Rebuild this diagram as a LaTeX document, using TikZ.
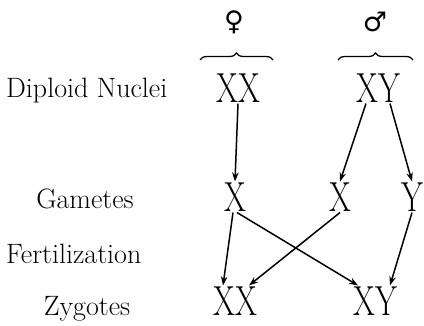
\documentclass[tikz,border=0pt]{standalone}
\usepackage{fontspec}
\newfontfamily\symbolfont{DejaVu Sans}
\usetikzlibrary{arrows.meta,decorations.pathreplacing}
\newcommand\chromtext[1]{\scalebox{0.75}[1]{#1}}

\begin{document}
\begin{tikzpicture}[
  x=1pt, y=-1pt,
  >={Stealth[length=9pt,width=6.5pt]},
  rowlabel/.style={font=\fontsize{28}{32}\selectfont, inner sep=0pt},
  chrom/.style={font=\fontsize{42}{46}\selectfont, inner sep=1pt},
  sexsign/.style={font=\symbolfont\fontsize{27}{30}\selectfont, inner sep=0pt},
  bracket/.style={decorate, decoration={brace, amplitude=7pt}, line width=1.3pt},
  link/.style={->, line width=1.5pt},
]
\useasboundingbox (0,0) rectangle (424,325);
% row labels
\node[rowlabel, anchor=base west] (dip) at (6,97) {Diploid Nuclei};
\node[rowlabel, anchor=base] (gam) at (85,208) {Gametes};
\node[rowlabel, anchor=base west] (fer) at (6,263) {Fertilization};
\node[rowlabel, anchor=base] (zyg) at (87,315) {Zygotes};
% parents, with their signs and braces
\node[sexsign] (fem) at (234,22) {♀};
\node[sexsign] (mal) at (375,22) {♂};
\coordinate (fbl) at (200,60);
\coordinate (fbr) at (273,60);
\coordinate (mbl) at (338,60);
\coordinate (mbr) at (413,60);
\draw[bracket] (fbl) -- (fbr);
\draw[bracket] (mbl) -- (mbr);
\node[chrom] (pXX) at (238,88) {\chromtext{XX}};
\node[chrom] (pXY) at (378,88) {\chromtext{XY}};
% gametes
\node[chrom] (gXf) at (235,197) {\chromtext{X}};
\node[chrom] (gXm) at (340,197) {\chromtext{X}};
\node[chrom] (gYm) at (412,197) {\chromtext{Y}};
% zygotes
\node[chrom] (zXX) at (235,301) {\chromtext{XX}};
\node[chrom] (zXY) at (375,301) {\chromtext{XY}};
% meiosis
\draw[link] (pXX.south) -- (gXf.north);
\draw[link] ([xshift=-12]pXY.south) -- (gXm.north);
\draw[link] ([xshift=12]pXY.south) -- (gYm.north);
% fertilization
\draw[link] ([xshift=-2]gXf.south) -- ([xshift=-12]zXX.north);
\draw[link] ([xshift=2]gXf.south) -- ([xshift=-17]zXY.north);
\draw[link] (gXm.south) -- ([xshift=14]zXX.north);
\draw[link] (gYm.south) -- ([xshift=15]zXY.north);
\end{tikzpicture}
\end{document}
